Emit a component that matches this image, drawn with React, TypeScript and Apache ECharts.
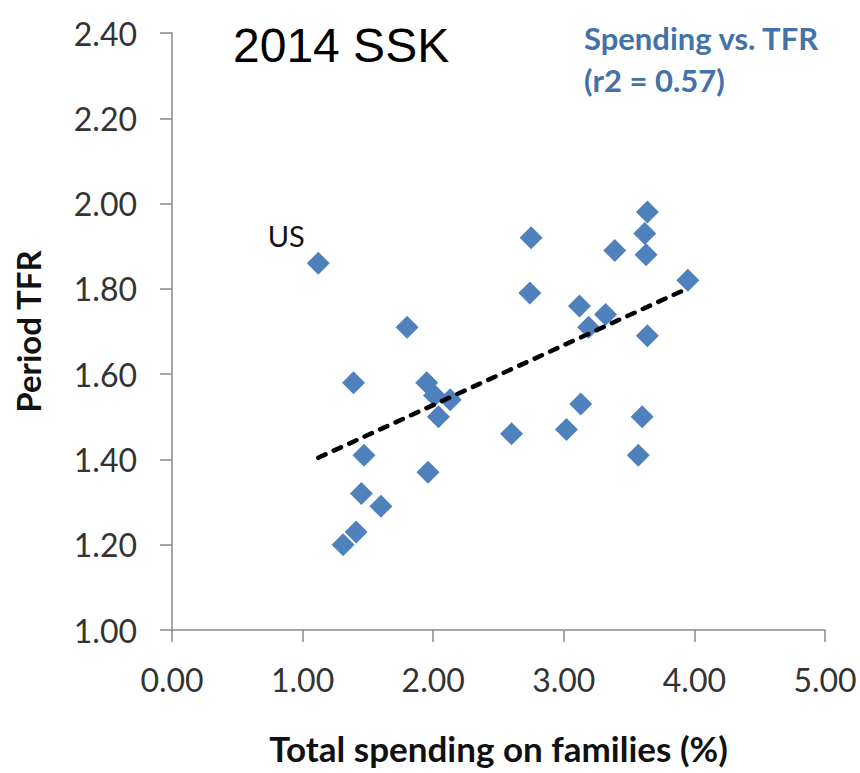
import React, { useEffect, useRef } from "react";
import * as echarts from "echarts";

const spending = [1.12, 1.80, 1.39, 1.95, 2.01, 2.13, 2.04, 1.47, 1.96, 1.45, 1.60, 1.41, 1.31, 2.75, 2.74, 2.60, 3.02, 3.13, 3.19, 3.12, 3.32, 3.39, 3.64, 3.62, 3.63, 3.64, 3.60, 3.57, 3.95];
const tfr = [1.86, 1.71, 1.58, 1.58, 1.55, 1.54, 1.50, 1.41, 1.37, 1.32, 1.29, 1.23, 1.20, 1.92, 1.79, 1.46, 1.47, 1.53, 1.71, 1.76, 1.74, 1.89, 1.98, 1.93, 1.88, 1.69, 1.50, 1.41, 1.82];
const pointLabels = ["US", "", "", "", "", "", "", "", "", "", "", "", "", "", "", "", "", "", "", "", "", "", "", "", "", "", "", "", ""];

const chartTitle = "2014 SSK";
const legendText = "Spending vs. TFR\n(r2 = 0.57)";
const xTitle = "Total spending on families (%)";
const yTitle = "Period TFR";

function regression(xs: number[], ys: number[]) {
  const n = xs.length;
  const mx = xs.reduce((a, b) => a + b, 0) / n;
  const my = ys.reduce((a, b) => a + b, 0) / n;
  let sxy = 0, sxx = 0;
  for (let i = 0; i < n; i++) {
    sxy += (xs[i] - mx) * (ys[i] - my);
    sxx += (xs[i] - mx) * (xs[i] - mx);
  }
  const slope = sxy / sxx;
  const icpt = my - slope * mx;
  const x0 = Math.min(...xs);
  const x1 = Math.max(...xs);
  return [[x0, icpt + slope * x0], [x1, icpt + slope * x1]];
}

export default function App() {
  const ref = useRef<HTMLDivElement>(null);
  useEffect(() => {
    document.body.style.margin = "0";
    const chart = echarts.init(ref.current!, null, { renderer: "svg" });
    const pts = spending.map((x, i) => ({
      value: [x, tfr[i]],
      label: pointLabels[i]
        ? { show: true, formatter: pointLabels[i], position: "top", offset: [-32, 3], fontSize: 29, fontFamily: "Lato", color: "#111" }
        : { show: false },
    }));
    const axisTextColor = "#333";
    const axisColor = "#8a8a8a";
    chart.setOption({
      animation: false,
      backgroundColor: "#fff",
      title: [
        { text: chartTitle, left: 233, top: 21, padding: 0, textStyle: { fontSize: 48, fontWeight: "normal", fontFamily: "Liberation Sans", color: "#000" } },
        { text: legendText, left: 584, top: 17, padding: 0, textStyle: { fontSize: 31, fontWeight: "bold", fontFamily: "Lato", color: "#4472A8", lineHeight: 42 } },
      ],
      grid: { left: 172, right: 35, top: 33, bottom: 143, containLabel: false },
      xAxis: {
        type: "value", min: 0, max: 5, interval: 1,
        name: xTitle, nameLocation: "middle", nameGap: 100,
        nameTextStyle: { fontSize: 35, fontWeight: "bold", fontFamily: "Lato", color: "#111" },
        axisLine: { show: true, lineStyle: { color: axisColor, width: 1.5 } },
        axisTick: { show: true, length: 12, lineStyle: { color: axisColor, width: 1.5 } },
        axisLabel: { fontSize: 32, fontFamily: "Lato", color: axisTextColor, margin: 33, formatter: (v: number) => v.toFixed(2) },
        splitLine: { show: false },
      },
      yAxis: {
        type: "value", min: 1, max: 2.4, interval: 0.2,
        name: yTitle, nameLocation: "middle", nameGap: 128, nameRotate: 90,
        nameTextStyle: { fontSize: 33, fontWeight: "bold", fontFamily: "Lato", color: "#111" },
        axisLine: { show: true, lineStyle: { color: axisColor, width: 1.5 } },
        axisTick: { show: true, length: 12, lineStyle: { color: axisColor, width: 1.5 } },
        axisLabel: { fontSize: 32, fontFamily: "Lato", color: axisTextColor, margin: 35, formatter: (v: number) => v.toFixed(2) },
        splitLine: { show: false },
      },
      series: [
        {
          type: "line",
          data: regression(spending, tfr),
          showSymbol: false,
          symbol: "none",
          lineStyle: { color: "#000", width: 4.5, type: [8, 9], cap: "round" },
          z: 3,
        },
        {
          type: "scatter",
          data: pts,
          symbol: "diamond",
          symbolSize: 23,
          itemStyle: { color: "#4F81BD", opacity: 1 },
          z: 2,
        },
      ],
    });
    return () => chart.dispose();
  }, []);
  return <div ref={ref} style={{ width: 860, height: 773 }} />;
}
